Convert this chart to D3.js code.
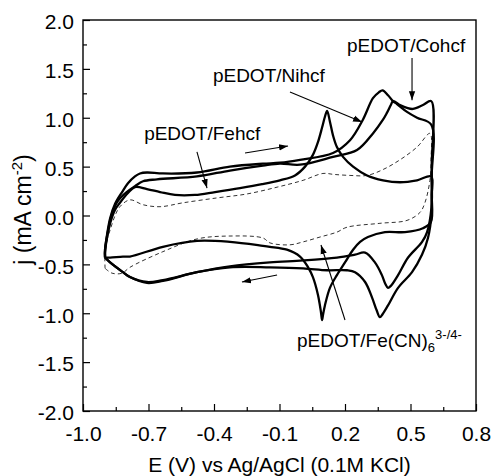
<!DOCTYPE html>
<html><head><meta charset="utf-8">
<script src="https://cdn.jsdelivr.net/npm/d3@7"></script>
<style>
html,body{margin:0;padding:0;background:#fff;}
svg{display:block;font-family:"Liberation Sans",Arial,sans-serif;}
</style></head>
<body>
<svg id="chart" width="493" height="476"></svg>
<script>
// ---- data (E in V, j in mA cm^-2), each curve a closed CV loop ----
const fehcf = [
 [-0.899,-0.43],[-0.899,-0.37],[-0.885,-0.17],[-0.876,-0.08],[-0.853,0.06],[-0.831,0.13],[-0.794,0.23],[-0.762,0.29],
 [-0.707,0.27],[-0.647,0.24],[-0.579,0.21],[-0.487,0.21],[-0.395,0.24],[-0.281,0.28],[-0.18,0.32],[-0.098,0.36],
 [-0.029,0.41],[0.017,0.50],[0.053,0.62],[0.076,0.75],[0.095,0.90],[0.108,1.01],[0.118,1.07],[0.131,0.96],[0.145,0.82],
 [0.163,0.70],[0.191,0.60],[0.237,0.50],[0.301,0.41],[0.374,0.36],[0.452,0.34],[0.53,0.36],[0.595,0.40],
 [0.597,0.21],[0.593,-0.07],[0.557,-0.13],[0.475,-0.17],[0.383,-0.17],[0.305,-0.22],[0.269,-0.27],[0.237,-0.35],
 [0.2,-0.48],[0.163,-0.61],[0.131,-0.74],[0.108,-0.92],[0.099,-1.02],[0.095,-1.07],[0.09,-0.99],[0.076,-0.81],
 [0.053,-0.63],[0.031,-0.53],[-0.006,-0.42],[-0.066,-0.35],[-0.144,-0.32],[-0.176,-0.31],[-0.327,-0.27],[-0.478,-0.26],
 [-0.634,-0.32],[-0.785,-0.42],[-0.817,-0.42],[-0.876,-0.43],[-0.899,-0.43]
];
const nihcf = [
 [-0.899,-0.43],[-0.899,-0.35],[-0.89,-0.20],[-0.876,-0.03],[-0.853,0.12],[-0.821,0.24],[-0.794,0.33],[-0.762,0.40],
 [-0.739,0.43],[-0.707,0.44],[-0.634,0.43],[-0.478,0.44],[-0.327,0.50],[-0.176,0.53],[-0.098,0.54],[-0.006,0.57],
 [0.145,0.64],[0.223,0.77],[0.282,0.98],[0.328,1.20],[0.355,1.26],[0.372,1.28],[0.397,1.23],[0.42,1.17],[0.438,1.14],
 [0.484,1.06],[0.53,1.00],[0.595,0.93],
 [0.597,0.40],[0.596,0.005],[0.58,-0.23],[0.553,-0.40],[0.507,-0.58],[0.443,-0.74],[0.397,-0.92],[0.372,-1.01],
 [0.36,-1.04],[0.345,-0.97],[0.324,-0.84],[0.292,-0.68],[0.246,-0.58],[0.209,-0.56],[0.118,-0.56],[0.008,-0.54],
 [-0.144,-0.53],[-0.327,-0.53],[-0.478,-0.58],[-0.634,-0.67],[-0.707,-0.69],[-0.785,-0.63],[-0.817,-0.58],
 [-0.876,-0.48],[-0.899,-0.43]
];
const cohcf = [
 [-0.899,-0.43],[-0.899,-0.35],[-0.885,-0.15],[-0.867,0.02],[-0.84,0.15],[-0.80,0.24],[-0.762,0.30],[-0.725,0.35],
 [-0.661,0.37],[-0.478,0.40],[-0.327,0.46],[-0.176,0.51],[-0.098,0.53],[-0.006,0.52],[0.145,0.60],[0.255,0.67],
 [0.328,0.84],[0.374,0.98],[0.392,1.05],[0.41,1.13],[0.42,1.17],[0.452,1.13],[0.484,1.10],[0.511,1.09],[0.557,1.13],
 [0.595,1.17],
 [0.597,0.50],[0.596,0.08],[0.576,-0.17],[0.553,-0.27],[0.489,-0.43],[0.443,-0.61],[0.41,-0.72],[0.397,-0.74],
 [0.385,-0.70],[0.369,-0.61],[0.337,-0.48],[0.292,-0.38],[0.246,-0.40],[0.163,-0.43],[0.008,-0.46],[-0.144,-0.48],
 [-0.327,-0.52],[-0.478,-0.58],[-0.634,-0.66],[-0.707,-0.68],[-0.785,-0.63],[-0.817,-0.58],[-0.876,-0.48],[-0.899,-0.43]
];
const fecn = [
 [-0.899,-0.54],[-0.899,-0.37],[-0.89,-0.25],[-0.876,-0.15],[-0.853,0.0],[-0.831,0.09],[-0.785,0.16],[-0.725,0.11],
 [-0.647,0.09],[-0.542,0.13],[-0.386,0.18],[-0.25,0.22],[-0.111,0.29],[0.008,0.36],[0.099,0.43],[0.15,0.42],
 [0.223,0.41],[0.301,0.41],[0.374,0.47],[0.452,0.57],[0.53,0.70],[0.589,0.84],
 [0.594,0.57],[0.589,0.36],[0.566,0.13],[0.543,0.03],[0.484,-0.05],[0.36,-0.08],[0.209,-0.12],[0.163,-0.17],
 [0.086,-0.22],[0.008,-0.27],[-0.052,-0.30],[-0.144,-0.28],[-0.176,-0.23],[-0.327,-0.21],[-0.478,-0.24],
 [-0.634,-0.37],[-0.785,-0.53],[-0.821,-0.59],[-0.867,-0.59],[-0.899,-0.54]
];
const xMajor = [-1.0,-0.7,-0.4,-0.1,0.2,0.5,0.8];
const xLabels = ["-1.0","-0.7","-0.4","-0.1","0.2","0.5","0.8"];
const xMinor = [-0.85,-0.55,-0.25,0.05,0.35,0.65];
const yMajor = [-2,-1.5,-1,-0.5,0,0.5,1,1.5,2];
const yLabels = ["-2.0","-1.5","-1.0","-0.5","0.0","0.5","1.0","1.5","2.0"];
const yMinor = [-1.75,-1.25,-0.75,-0.25,0.25,0.75,1.25,1.75];

// ---- layout ----
const L=83, R=476, T=20, B=411;
const svg = d3.select("#chart");
const x = d3.scaleLinear().domain([-1.0,0.8]).range([L,R]);
const y = d3.scaleLinear().domain([-2,2]).range([B,T]);

const defs = svg.append("defs");
defs.append("marker").attr("id","ah").attr("viewBox","0 0 10 10").attr("refX",10).attr("refY",5)
  .attr("markerWidth",9).attr("markerHeight",9).attr("markerUnits","userSpaceOnUse").attr("orient","auto")
  .append("path").attr("d","M0,1.5 L10,5 L0,8.5 Z").attr("fill","#000");

const line = d3.line().x(d=>x(d[0])).y(d=>y(d[1])).curve(d3.curveCatmullRom.alpha(0.5));

svg.append("path").datum(fecn).attr("d",line).attr("fill","none").attr("stroke","#333")
  .attr("stroke-width",1).attr("stroke-dasharray","4,3");
[fehcf,nihcf,cohcf].forEach(s=>{
  svg.append("path").datum(s).attr("d",line).attr("fill","none").attr("stroke","#000")
    .attr("stroke-width",2.3).attr("stroke-linejoin","round");
});

// frame
svg.append("rect").attr("x",L).attr("y",T).attr("width",R-L).attr("height",B-T)
  .attr("fill","none").attr("stroke","#000").attr("stroke-width",1.4);

// axes
const fs = 21;
const xa = svg.append("g").attr("transform",`translate(0,${B})`)
  .call(d3.axisBottom(x).tickValues(xMajor).tickFormat((d,i)=>xLabels[i]).tickSizeInner(-7).tickSizeOuter(0).tickPadding(15));
xa.select(".domain").remove();
xa.selectAll("line").attr("stroke-width",1.2);
xa.selectAll("text").attr("font-size",fs).attr("fill","#000").attr("font-family","Liberation Sans, Arial, sans-serif");
const xm = svg.append("g").attr("transform",`translate(0,${B})`)
  .call(d3.axisBottom(x).tickValues(xMinor).tickFormat("").tickSizeInner(-4).tickSizeOuter(0));
xm.select(".domain").remove(); xm.selectAll("line").attr("stroke-width",1.2);

const ya = svg.append("g").attr("transform",`translate(${L},0)`)
  .call(d3.axisLeft(y).tickValues(yMajor).tickFormat((d,i)=>yLabels[i]).tickSizeInner(-7).tickSizeOuter(0).tickPadding(9));
ya.select(".domain").remove();
ya.selectAll("line").attr("stroke-width",1.2);
ya.selectAll("text").attr("font-size",fs).attr("fill","#000").attr("dy","0.42em").attr("font-family","Liberation Sans, Arial, sans-serif");
const ym = svg.append("g").attr("transform",`translate(${L},0)`)
  .call(d3.axisLeft(y).tickValues(yMinor).tickFormat("").tickSizeInner(-4).tickSizeOuter(0));
ym.select(".domain").remove(); ym.selectAll("line").attr("stroke-width",1.2);

// axis titles
svg.append("text").attr("x",(L+R)/2).attr("y",472).attr("text-anchor","middle")
  .attr("font-size",21).text("E (V) vs Ag/AgCl (0.1M KCl)");
const yt = svg.append("text").attr("transform",`translate(31,${(T+B)/2-6}) rotate(-90)`)
  .attr("text-anchor","middle").attr("font-size",23);
yt.append("tspan").text("j (mA cm");
yt.append("tspan").attr("font-size",15).attr("dy",-9).text("-2");
yt.append("tspan").attr("dy",9).text(")");

// annotations
const ann = svg.append("g").attr("font-size",19);
ann.append("text").attr("x",x(0.209)).attr("y",y(1.673)).text("pEDOT/Cohcf");
ann.append("text").attr("x",x(-0.405)).attr("y",y(1.37)).text("pEDOT/Nihcf");
ann.append("text").attr("x",x(-0.72)).attr("y",y(0.77)).text("pEDOT/Fehcf");
const fl = ann.append("text").attr("x",x(-0.02)).attr("y",y(-1.345));
fl.append("tspan").text("pEDOT/Fe(CN)");
fl.append("tspan").attr("font-size",13).attr("dy",5).text("6");
fl.append("tspan").attr("font-size",13).attr("dy",-13).text("3-/4-");

const arrows = [
  [[0.507,1.611],[0.507,1.18]],
  [[-0.052,1.263],[0.278,0.957]],
  [[-0.478,0.65],[-0.432,0.281]],
  [[-0.258,0.639],[-0.061,0.711]],
  [[-0.111,-0.609],[-0.272,-0.68]],
  [[0.2,-1.069],[0.09,-0.302]]
];
arrows.forEach(a=>{
  svg.append("line").attr("x1",x(a[0][0])).attr("y1",y(a[0][1])).attr("x2",x(a[1][0])).attr("y2",y(a[1][1]))
    .attr("stroke","#000").attr("stroke-width",1.1).attr("marker-end","url(#ah)");
});
</script>
</body></html>
